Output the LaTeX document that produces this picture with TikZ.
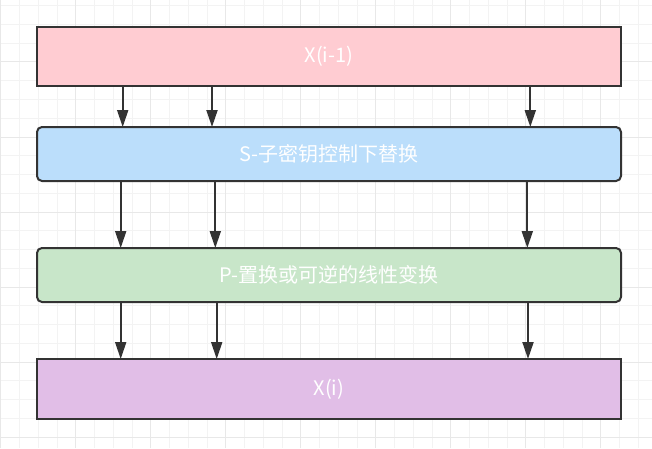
\documentclass[tikz,border=0pt]{standalone}
\usepackage{fontspec}
\setmainfont{Noto Sans CJK SC}
\usetikzlibrary{arrows.meta,positioning}
\definecolor{edge}{HTML}{333333}
\definecolor{gridminor}{HTML}{F3F3F3}
\definecolor{gridmajor}{HTML}{E8E8E8}
\definecolor{softred}{HTML}{FFCCD2}
\definecolor{softblue}{HTML}{BBDEFB}
\definecolor{softgreen}{HTML}{C8E6C9}
\definecolor{softpurple}{HTML}{E1BEE7}

\begin{document}
\begin{tikzpicture}[
  x=1pt, y=1pt,
  font=\fontsize{20}{24}\selectfont,
  stage/.style={draw=edge, line width=2pt, text=white, minimum width=584pt, outer sep=0pt, align=center},
  arr/.style={-{Triangle[length=17pt,width=11pt]}, line width=2pt, edge}
]
\useasboundingbox (0,0) rectangle (652,448);
% background grid
\begin{scope}[shift={(0.75,11)}]
  \draw[gridminor, line width=1pt, step=18.75] (-0.75,-11) grid (651.25,437);
  \draw[gridmajor, line width=1pt, step=75] (-0.75,-11) grid (651.25,437);
\end{scope}
\node[stage, fill=softred, minimum height=59pt] (xin) at (329,391.5) {X(i-1)};
\node[stage, fill=softblue, rounded corners=5pt, minimum height=54pt, below=41pt of xin] (sbox) {S-子密钥控制下替换};
\node[stage, fill=softgreen, rounded corners=5pt, minimum height=54pt, below=67pt of sbox] (pbox) {P-置换或可逆的线性变换};
\node[stage, fill=softpurple, minimum height=60pt, below=57pt of pbox] (xout) {X(i)};
\foreach \dx in {85.7,175,493.3}
  \draw[arr] ([xshift=\dx]xin.south west) -- ([xshift=\dx]sbox.north west);
\foreach \dx in {83.7,178.3,490.3}
  \draw[arr] ([xshift=\dx]sbox.south west) -- ([xshift=\dx]pbox.north west);
\foreach \dx in {83.7,179.7,491}
  \draw[arr] ([xshift=\dx]pbox.south west) -- ([xshift=\dx]xout.north west);
\end{tikzpicture}
\end{document}
